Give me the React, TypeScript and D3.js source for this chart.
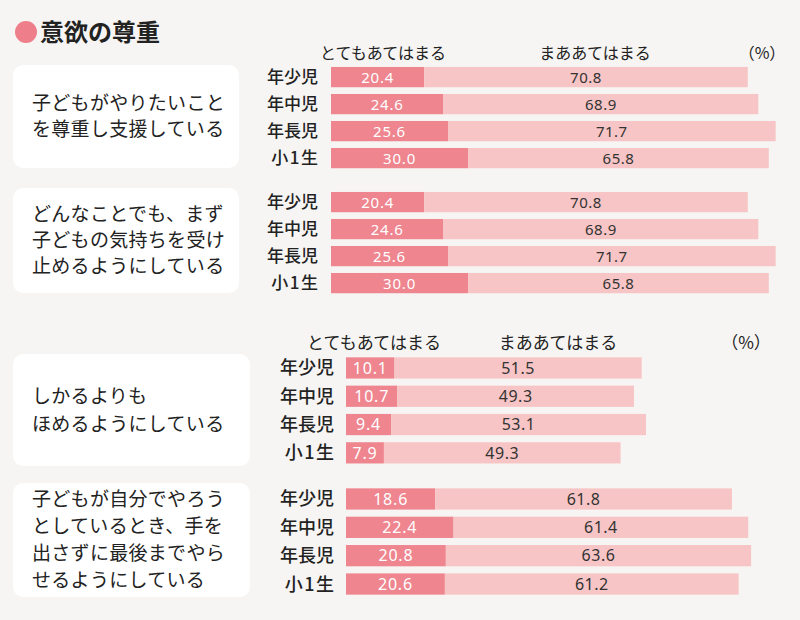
import * as d3 from 'd3'

// 年齢区分
const groups = ["年少児", "年中児", "年長児", "小1生"]

// 項目（ボックス内の文言、行ごと）
const itemLines = [
  ["子どもがやりたいこと", "を尊重し支援している"],
  ["どんなことでも、まず", "子どもの気持ちを受け", "止めるようにしている"],
  ["しかるよりも", "ほめるようにしている"],
  ["子どもが自分でやろう", "としているとき、手を", "出さずに最後までやら", "せるようにしている"],
]

// とてもあてはまる (%)
const strong = [
  [20.4, 24.6, 25.6, 30.0],
  [20.4, 24.6, 25.6, 30.0],
  [10.1, 10.7, 9.4, 7.9],
  [18.6, 22.4, 20.8, 20.6],
]

// まああてはまる (%)
const somewhat = [
  [70.8, 68.9, 71.7, 65.8],
  [70.8, 68.9, 71.7, 65.8],
  [51.5, 49.3, 53.1, 49.3],
  [61.8, 61.4, 63.6, 61.2],
]

const seriesLabels = ["とてもあてはまる", "まああてはまる"]
const title = "意欲の尊重"

const C_STRONG = "#ee858f"
const C_SOME = "#f7c5c5"
const BG = "#f6f5f3"
const JP = "'Noto Sans CJK JP', 'Noto Sans', sans-serif"
const NUM = "'Noto Sans', 'DejaVu Sans', sans-serif"

// 上半分と下半分でスケールが少し違う（元画像が2枚組）
const xTop = d3.scaleLinear().domain([0, 100]).range([331, 788])
const xBottom = d3.scaleLinear().domain([0, 100]).range([346, 826])

const panels = [
  { x: xTop, y0: 63.6, step: 27, box: [13, 65, 226, 103], labelRight: 318, fs: 17, nfs: 15, lineH: 26 },
  { x: xTop, y0: 188.6, step: 27, box: [13, 188, 226, 105], labelRight: 318, fs: 17, nfs: 15, lineH: 26 },
  { x: xBottom, y0: 353.8, step: 28.3, box: [13, 354, 237, 112], labelRight: 334, fs: 18, nfs: 16, lineH: 28 },
  { x: xBottom, y0: 484.8, step: 28.35, box: [13, 483, 237, 114], labelRight: 334, fs: 18, nfs: 16, lineH: 27 },
]

const headers = [
  { y: 53, cx: [383, 595], pct: 762, fs: 16 },
  { y: 343, cx: [374, 558], pct: 746, fs: 17 },
]

function Panel({ i }: { i: number }) {
  const p = panels[i]
  const y = d3.scaleBand<string>()
    .domain(groups)
    .range([p.y0, p.y0 + p.step * 4])
    .paddingInner(0.25)
    .paddingOuter(0.125)
  const x = p.x
  const [bx, by, bw, bh] = p.box
  const lines = itemLines[i]
  const midY = by + bh / 2
  return (
    <g>
      <rect x={bx} y={by} width={bw} height={bh} rx={10} fill="#fff" />
      {lines.map((t, k) => (
        <text
          key={k}
          x={32}
          y={midY + (k - (lines.length - 1) / 2) * p.lineH}
          dy="0.36em"
          fontFamily={JP}
          fontSize={19}
          letterSpacing={0.3}
          fill="#222"
        >{t}</text>
      ))}
      {groups.map((g, k) => {
        const s = strong[i][k]
        const m = somewhat[i][k]
        const top = y(g) ?? 0
        const h = y.bandwidth()
        const cy = top + h / 2
        // 半角数字を含むラベルは字間を少し広げる
        const ls = /[0-9]/.test(g) ? 1.5 : 0
        return (
          <g key={g}>
            <text x={p.labelRight + ls} y={cy} dy="0.36em" textAnchor="end"
              fontFamily={JP} fontSize={p.fs} fontWeight={500} letterSpacing={ls} fill="#222">{g}</text>
            <rect x={x(0)} y={top} width={x(s) - x(0)} height={h} fill={C_STRONG} />
            <rect x={x(s)} y={top} width={x(s + m) - x(s)} height={h} fill={C_SOME} />
            <text x={(x(0) + x(s)) / 2} y={cy} dy="0.36em" textAnchor="middle"
              fontFamily={NUM} fontSize={p.nfs} letterSpacing={0.8} fill="#fff">{s.toFixed(1)}</text>
            <text x={(x(s) + x(s + m)) / 2} y={cy} dy="0.36em" textAnchor="middle"
              fontFamily={NUM} fontSize={p.nfs} letterSpacing={0.5} fill="#333">{m.toFixed(1)}</text>
          </g>
        )
      })}
    </g>
  )
}

export default function App() {
  return (
    <svg width={800} height={620} style={{ position: 'absolute', left: 0, top: 0, display: 'block' }}>
      <rect width={800} height={620} fill={BG} />
      <circle cx={26} cy={32} r={11} fill="#ee7f8a" />
      <text x={40} y={32} dy="0.36em" fontFamily={JP} fontSize={24} fontWeight={700} fill="#222">{title}</text>
      {headers.map((h, k) => (
        <g key={k}>
          {seriesLabels.map((l, j) => (
            <text key={l} x={h.cx[j]} y={h.y} dy="0.36em" textAnchor="middle"
              fontFamily={JP} fontSize={h.fs} fill="#222">{l}</text>
          ))}
          <text x={h.pct} y={h.y} dy="0.36em" textAnchor="middle"
            fontFamily={JP} fontSize={h.fs} fill="#222">（%）</text>
        </g>
      ))}
      {panels.map((_, i) => <Panel key={i} i={i} />)}
    </svg>
  )
}
